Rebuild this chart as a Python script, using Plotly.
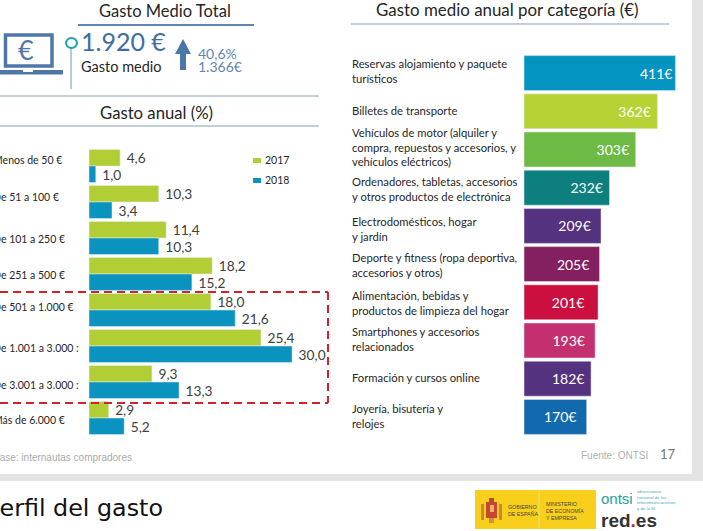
import plotly.graph_objects as go

W, H = 703, 531
# ---------- data ----------
spend_ranges = ["Menos de 50 €", "De 51 a 100 €", "De 101 a 250 €", "De 251 a 500 €",
                "De 501 a 1.000 €", "De 1.001 a 3.000 :", "De 3.001 a 3.000 :", "Más de 6.000 €"]
share_2017 = [4.6, 10.3, 11.4, 18.2, 18.0, 25.4, 9.3, 2.9]
share_2018 = [1.0, 3.4, 10.3, 15.2, 21.6, 30.0, 13.3, 5.2]
categories = ["Reservas alojamiento y paquete<br>turísticos", "Billetes de transporte",
              "Vehículos de motor (alquiler y<br>compra, repuestos y accesorios, y<br>vehículos eléctricos)",
              "Ordenadores, tabletas, accesorios<br>y otros productos de electrónica",
              "Electrodomésticos, hogar<br>y jardín", "Deporte y fitness (ropa deportiva,<br>accesorios y otros)",
              "Alimentación, bebidas y<br>productos de limpieza del hogar",
              "Smartphones y accesorios<br>relacionados", "Formación y cursos online",
              "Joyería, bisutería y<br>relojes"]
category_spend = [411, 362, 303, 232, 209, 205, 201, 193, 182, 170]

# ---------- styling (kept apart from the data) ----------
category_colors = ["#0494C1", "#B5D334", "#6DBB45", "#0C7F7E", "#54327F",
                   "#84205F", "#CB0F3F", "#C4306F", "#54327F", "#1369AE"]
left_label_nudge = [-6, -5, 1, 1, -3, 2, 3, 2]
right_label_nudge = [-2.5, -1, -2, 1, 3, 1, 0.5, -2, -1, -1]
inside_label_pad = [0, 1, 1, 1, 2, 2, 3, 2, 1, 2]
GREEN, BLUE = "#B2CE35", "#0A93BF"
FONT = "Lato"
DARK = "#262626"
NBSP = "\u00a0"

def px(x): return x / W
def py(y): return 1 - y / H

fig = go.Figure()
fig.add_bar(name="2017", y=spend_ranges, x=share_2017, orientation="h", marker_color=GREEN,
            texttemplate=NBSP + "%{x:.1f}", textposition="outside", cliponaxis=False,
            textfont=dict(size=15, color="#404040", family=FONT), xaxis="x", yaxis="y", showlegend=False)
fig.add_bar(name="2018", y=spend_ranges, x=share_2018, orientation="h", marker_color=BLUE,
            texttemplate=NBSP + "%{x:.1f}", textposition="outside", cliponaxis=False,
            textfont=dict(size=15, color="#404040", family=FONT), xaxis="x", yaxis="y", showlegend=False)
fig.add_bar(y=categories, x=category_spend, orientation="h", marker_color=category_colors,
            showlegend=False, xaxis="x2", yaxis="y2",
            texttemplate=["%{x}€" + NBSP * n for n in inside_label_pad],
            textposition="inside", insidetextanchor="end",
            constraintext="none", textangle=0,
            textfont=dict(size=14, color="white", family=FONT))

shapes = []
def rect(x0, y0, x1, y1, fill, line=None, lw=0, layer="below"):
    shapes.append(dict(type="rect", xref="paper", yref="paper", x0=px(x0), x1=px(x1), y0=py(y0), y1=py(y1),
                       fillcolor=fill, line=dict(color=line or fill, width=lw), layer=layer))
def line(x0, y0, x1, y1, color, lw=1, dash=None):
    shapes.append(dict(type="line", xref="paper", yref="paper", x0=px(x0), x1=px(x1), y0=py(y0), y1=py(y1),
                       line=dict(color=color, width=lw, dash=dash), layer="above"))
def path(points, fill):
    d = "M" + "L".join(f"{px(a):.5f},{py(b):.5f}" for a, b in points) + "Z"
    shapes.append(dict(type="path", path=d, xref="paper", yref="paper", fillcolor=fill, line=dict(width=0)))

anns = []
def text(x, y, s, size, color=DARK, anchor="left", family=FONT):
    anns.append(dict(x=px(x), y=py(y), xref="paper", yref="paper", text=s, showarrow=False, xanchor=anchor,
                     yanchor="middle", align=anchor,
                     font=dict(size=size, color=color, family=family), borderpad=0, borderwidth=0))

# page structure
rect(692, 0, 703, 474, "#E4E4E4")
rect(0, 474, 703, 481, "#E4E4E4")

# rules
line(78, 25, 254, 25, "#5F86AE", 2)
line(0, 96, 319, 96, "#86A0B6", 1)
line(0, 126, 319, 126, "#86A0B6", 1)
line(351, 24, 669, 24, "#86A0B6", 1)
line(71, 48, 71, 89, "#86AABF", 1.2)
shapes.append(dict(type="circle", xref="paper", yref="paper", x0=px(66), x1=px(77), y0=py(48), y1=py(38),
                   fillcolor="white", line=dict(color="#1AA5B5", width=2)))

# laptop
rect(5.5, 35, 52, 66, "white", "#4F77A8", 3.5)
rect(0, 70, 63, 74.5, "#4F77A8")
rect(23, 70, 33, 72, "white")
text(26, 50, "€", 27, "#4F77A8", "center")

# arrow
path([(183, 39), (191, 54), (186, 54), (186, 70), (180, 70), (180, 54), (175, 54)], "#4A76A8")

# red dashed box
line(0, 292, 328, 292, "#D2232A", 2, "8px,5px")
line(0, 403, 328, 403, "#D2232A", 2, "8px,5px")
line(328, 292, 328, 403, "#D2232A", 2, "8px,5px")

# titles and figures
text(165, 11, "Gasto Medio Total", 16.5, DARK, "center")
text(81, 41, "1.920 €", 25, "#3F6DA2")
text(81, 67, "Gasto medio", 14.5, DARK)
text(198, 53, "40,6%", 14, "#5D86B0")
text(198, 67, "1.366€", 14, "#5D86B0")
text(156, 113, "Gasto anual (%)", 16.7, DARK, "center")
text(507, 10, "Gasto medio anual por categoría (€)", 16.9, DARK, "center")

# legend
rect(253, 158, 261, 163, GREEN)
rect(253, 178, 261, 183, BLUE)
text(265, 160, "2017", 10.5)
text(265, 180, "2018", 10.5)

# left chart category labels
for cat, nudge in zip(spend_ranges, left_label_nudge):
    anns.append(dict(x=px(-9), xref="paper", y=cat, yref="y", yshift=-nudge, text=cat, showarrow=False,
                     xanchor="left", yanchor="middle", font=dict(size=10.5, color=DARK, family=FONT)))
# right chart category labels
for cat, nudge in zip(categories, right_label_nudge):
    anns.append(dict(x=px(350), xref="paper", y=cat, yref="y2", yshift=-nudge, text=cat, showarrow=False,
                     xanchor="left", align="left", yanchor="middle",
                     font=dict(size=11.25, color=DARK, family=FONT)))

# footers
text(-7, 457, "Base: internautas compradores", 10, "#AAAAAA", family="Liberation Sans")
text(581, 455, "Fuente: ONTSI", 10, "#B0B0B0", family="Liberation Sans")
text(660, 454, "17", 13, "#777777")
text(-14.5, 508, "Perfil del gasto", 23.8, "#111111", family="DejaVu Sans")

# logos
rect(475, 490, 596, 529, "#F8CF1A")
line(539, 490, 539, 529, "#F3DE70", 1)
rect(481, 504, 484, 520, "#C9873A")
rect(499, 504, 502, 520, "#C9873A")
rect(486, 502, 497, 518, "#C9452E")
rect(489, 498, 494, 503, "#B5483A")
rect(490, 505, 494, 512, "#E9B36A")
rect(489, 518, 494, 523, "#D98A4A")
text(508, 510, "GOBIERNO<br>DE ESPAÑA", 5.3, "#444444", family="Liberation Sans")
text(546, 511, "MINISTERIO<br>DE ECONOMÍA<br>Y EMPRESA", 5.3, "#444444", family="Liberation Sans")
text(601, 498, "ontsi", 15, "#1AA5A0", family="Liberation Sans")
text(637, 500, "observatorio<br>nacional de las<br>telecomunicaciones<br>y de la SI", 4.4, "#3FA9C5", family="Liberation Sans")
text(601, 520, "<b>red<span style='color:#D2232A'>.</span>es</b>", 19, "#333333", family="Liberation Sans")

fig.update_layout(
    width=W, height=H, margin=dict(l=0, r=0, t=0, b=0), autosize=False,
    paper_bgcolor="white", plot_bgcolor="rgba(0,0,0,0)",
    separators=",.", barmode="group", bargap=0.085, bargroupgap=0,
    shapes=shapes, annotations=anns, font=dict(family=FONT, color=DARK),
    xaxis=dict(domain=[px(89), px(329)], range=[0, 240 / 6.77], visible=False),
    yaxis=dict(domain=[py(436), py(148)], autorange="reversed", visible=False, anchor="x", type="category"),
    xaxis2=dict(domain=[px(524), px(690)], range=[0, 166 / 0.3685], visible=False, anchor="y2"),
    yaxis2=dict(domain=[py(436), py(54)], autorange="reversed", visible=False, anchor="x2", type="category"),
)
fig.write_html("out.html", config=dict(displayModeBar=False),
               post_script="document.body.style.margin='0';document.body.style.overflow='hidden';")
